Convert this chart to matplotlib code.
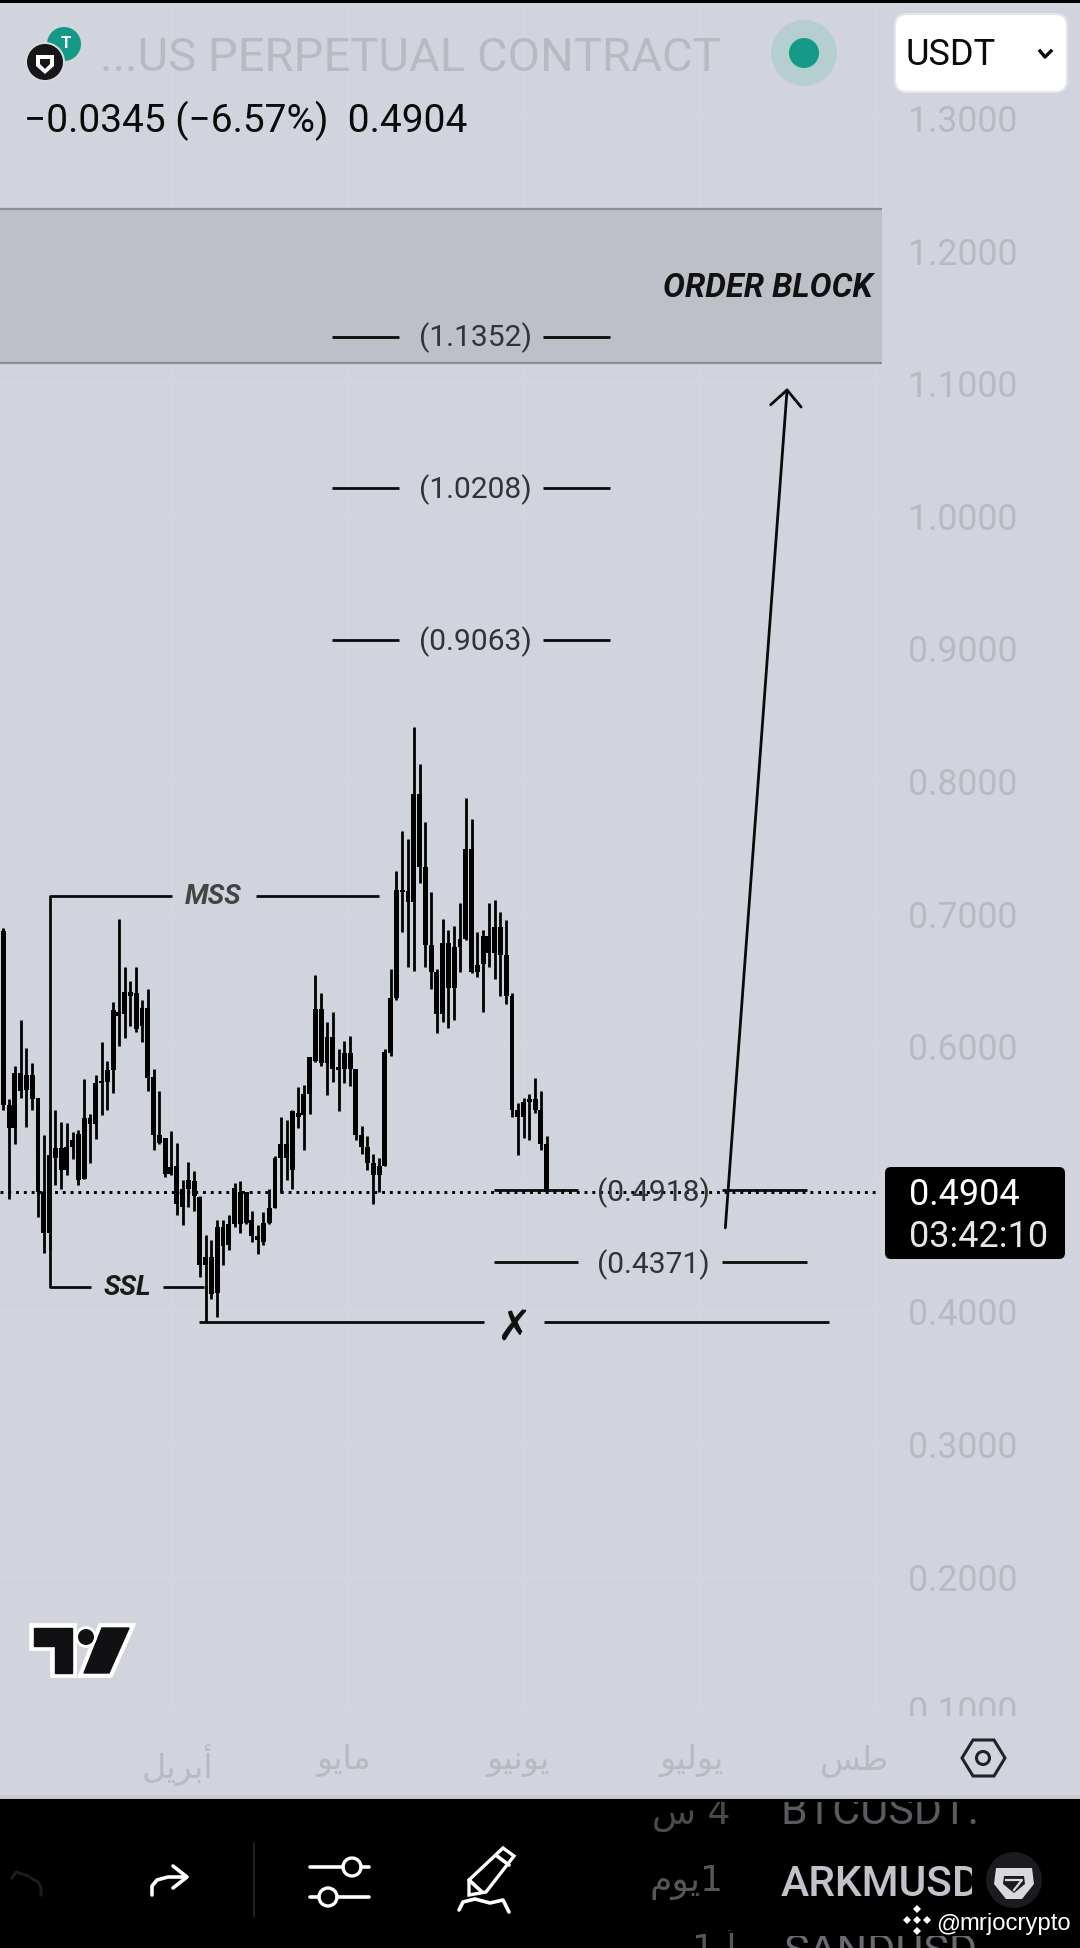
import matplotlib
matplotlib.use("Agg")
import matplotlib.pyplot as plt
import numpy as np
from matplotlib import patheffects as pe
from matplotlib.patches import Circle, FancyBboxPatch, Polygon, Rectangle

plt.rcParams["font.family"] = ["Roboto", "DejaVu Sans"]

BG = "#d1d4dc"
GRID = "#d4d7df"
FAINT = "#b8bac2"

# candles (price)
highs = [.689, .560, .585, .620, .599, .587, .561, .533, .552, .552, .543, .542, .535, .537, .575, .549,
         .578, .603, .589, .633, .696, .660, .649, .660, .635, .643, .583, .566, .531, .536, .527, .499,
         .513, .506, .487, .458, .454, .469, .469, .473, .497, .498, .490, .476, .465, .475, .492, .517,
         .547, .544, .552, .569, .571, .592, .654, .640, .618, .626, .598, .604, .608, .583, .540, .532,
         .519, .516, .598, .658, .732, .762, .756, .841, .813, .769, .716, .658, .696, .688, .691, .708,
         .787, .771, .686, .688, .708, .710, .701, .695, .640, .557, .561, .564, .576, .566, .532]
tops = [.687, .556, .580, .580, .578, .578, .561, .490, .518, .523, .523, .524, .529, .534, .546, .546,
        .572, .574, .582, .627, .626, .641, .641, .640, .629, .629, .577, .533, .531, .509, .510, .492,
        .499, .498, .486, .441, .441, .464, .464, .466, .493, .490, .490, .469, .457, .467, .478, .516,
        .526, .526, .551, .550, .564, .592, .628, .628, .607, .607, .584, .595, .595, .583, .533, .524,
        .512, .510, .596, .636, .718, .718, .717, .790, .790, .735, .676, .656, .678, .678, .675, .681,
        .749, .749, .661, .683, .683, .690, .690, .669, .638, .552, .558, .560, .560, .552, .526]
bottoms = [.556, .538, .538, .566, .567, .560, .490, .459, .459, .516, .507, .507, .524, .499, .500, .541,
           .541, .572, .573, .582, .623, .624, .638, .613, .615, .576, .533, .527, .504, .504, .481, .479,
           .492, .487, .435, .435, .413, .414, .449, .450, .466, .466, .467, .457, .454, .452, .467, .478,
           .516, .516, .507, .547, .548, .564, .589, .587, .587, .583, .582, .583, .583, .533, .524, .512,
           .503, .503, .510, .595, .636, .716, .709, .709, .735, .676, .656, .624, .624, .644, .644, .675,
           .681, .656, .656, .662, .670, .670, .669, .638, .552, .547, .547, .558, .552, .526, .490]
lows = [.552, .485, .526, .561, .539, .552, .471, .444, .446, .495, .492, .503, .515, .495, .500, .512,
        .530, .548, .552, .565, .600, .606, .615, .611, .603, .566, .522, .526, .501, .503, .473, .465,
        .479, .476, .426, .392, .409, .396, .435, .446, .464, .459, .466, .452, .443, .450, .466, .478,
        .489, .499, .492, .538, .522, .549, .588, .585, .563, .573, .551, .572, .570, .529, .519, .507,
        .481, .490, .510, .593, .635, .686, .660, .657, .723, .660, .643, .610, .618, .614, .620, .656,
        .680, .655, .652, .626, .660, .651, .638, .632, .547, .518, .531, .529, .550, .522, .490]

price_ticks = [.1, .2, .3, .4, .5, .6, .7, .8, .9, 1.0, 1.1, 1.2, 1.3]
grid_x = [29.2, 59.6, 90.1, 120.5, 151.0]
month_x = [30.2, 58.8, 89.0, 119.0, 147.2]
# arabic month names, in presentation forms because matplotlib does not shape
month_labels = ["\ufede\ufef3\ufeae\ufe91\ufe83", "\ufeee\ufef3\ufe8e\ufee3",
                "\ufeee\ufef4\ufee7\ufeee\ufef3", "\ufeee\ufef4\ufedf\ufeee\ufef3", "\ufeb2\ufec3"]

last_price = 0.4904
block_low, block_high = 1.1152, 1.2314
upper_levels = [1.1352, 1.0208, 0.9063]
lower_levels = [0.4918, 0.4371]
mss_price, ssl_price, x_price = 0.713, 0.4187, 0.392

fig = plt.figure(figsize=(10.8, 19.48), dpi=100, facecolor=BG)
ax = fig.add_axes([0, (1948 - 1716) / 1948, 882 / 1080, 1716 / 1948], facecolor=BG)
ax.set_xlim(-0.571, 152.0)
ax.set_ylim(0.0949, 1.38899)
for s in ax.spines.values():
    s.set_visible(False)

ax.yaxis.tick_right()
ax.set_yticks(price_ticks, [f"{p:.4f}" for p in price_ticks])
ax.tick_params(axis="y", length=0, pad=19, labelsize=25.7, labelcolor=FAINT)
ax.set_xticks(month_x, month_labels, family="DejaVu Sans")
ax.tick_params(axis="x", length=0, pad=20, labelsize=24, labelcolor=FAINT)
ax.set_xticks(grid_x, minor=True)
ax.tick_params(axis="x", which="minor", length=0)
ax.grid(True, which="minor", axis="x", color=GRID, lw=1.2)
ax.grid(True, which="major", axis="y", color=GRID, lw=1.2)
ax.set_axisbelow(True)

# order block
ax.axhspan(block_low, block_high, color="#bec0c7", lw=0, zorder=1)
ax.axhline(block_low, color="#8c8f96", lw=1.6, zorder=1.5)
ax.axhline(block_high, color="#8c8f96", lw=1.6, zorder=1.5)

# candles
x = np.arange(len(highs))
highs, tops, bottoms, lows = map(np.array, (highs, tops, bottoms, lows))
ax.vlines(x, lows, highs, color="black", lw=2.0, zorder=3)
ax.bar(x, tops - bottoms, bottom=bottoms, width=0.85, color="black", zorder=3)

ax.plot([-0.571, 151.4], [last_price, last_price], color="black", lw=2.1,
        ls=(0, (1, 1.67)), zorder=4, dash_capstyle="butt")

# structure lines
line = dict(color="#0a0a0a", lw=2.0, zorder=4, solid_capstyle="butt")
ax.plot([29.2, 8, 8, 15.2], [mss_price, mss_price, ssl_price, ssl_price], **line)
ax.plot([43.7, 65], [mss_price, mss_price], **line)
ax.plot([27.6, 34.7], [ssl_price, ssl_price], **line)
ax.plot([33.8, 83.2], [x_price, x_price], **line)
ax.plot([93.6, 142.9], [x_price, x_price], **line)
ax.text(36.3, mss_price, "MSS", color="#444444", fontsize=20, weight="bold", style="italic",
        ha="center", va="center", zorder=5)
ax.text(21.4, ssl_price - 0.001, "SSL", color="#1a1a1a", fontsize=20, weight="bold", style="italic",
        ha="center", va="center", zorder=5)
ax.text(88.2, x_price - 0.005, "\u2717", color="#111111", fontsize=30, weight="bold",
        family="DejaVu Sans", ha="center", va="center", zorder=5)
ax.text(150.3, 1.1720, "ORDER BLOCK", color="#111111", fontsize=23.6, weight="bold", style="italic",
        ha="right", va="center", zorder=5)

# target levels
for lv in upper_levels:
    ax.plot([56.9, 68.5], [lv, lv], **line)
    ax.plot([93.4, 105.0], [lv, lv], **line)
    ax.text(81.6, lv - 0.0012, f"({lv:.4f})", color="#333333", fontsize=21.6, ha="center", va="center", zorder=5)
for lv in lower_levels:
    ax.plot([84.8, 99.4], [lv, lv], **line)
    ax.plot([124.4, 139.0], [lv, lv], **line)
    ax.text(112.4, lv - 0.0022, f"({lv:.4f})", color="#333333", fontsize=21.6, ha="center", va="center", zorder=5)

ax.annotate("", xy=(135.6, 1.0964), xytext=(124.9, 0.463), zorder=5,
            arrowprops=dict(arrowstyle="->,head_length=1.15,head_width=1.1", color="#0a0a0a", lw=2.0,
                            shrinkA=0, shrinkB=0))

# overlay in screen pixels for the app chrome
ov = fig.add_axes([0, 0, 1, 1], facecolor="none", zorder=5)
ov.set_xlim(0, 1080)
ov.set_ylim(1948, 0)
ov.axis("off")

ov.add_patch(Rectangle((0, 1716), 1080, 22, color=BG, lw=0))
ov.add_patch(Rectangle((0, 0), 1080, 2.5, color="black", lw=0))
ov.add_patch(Rectangle((0, 1795), 1080, 4, color="#c6c9d0", lw=0))
ov.add_patch(Rectangle((0, 1799), 1080, 149, color="black", lw=0))

# header
ov.add_patch(Circle((64, 44), 17, color="#149a87", lw=0))
ov.text(66, 43, "T", color="white", fontsize=12, weight="bold", ha="center", va="center")
ov.add_patch(Circle((45, 62), 20, color="#d8dadf", lw=0))
ov.add_patch(Circle((45, 62), 18, color="#17171a", lw=0))
ov.add_patch(Polygon([(36, 55), (54, 55), (54, 66), (45, 74), (36, 66)], closed=True, fc="white", lw=0))
ov.add_patch(Polygon([(40, 59), (50, 59), (50, 64), (45, 69), (40, 64)], closed=True, fc="#17171a", lw=0))
ov.text(100, 58, "...US PERPETUAL CONTRACT", color=FAINT, fontsize=34, ha="left", va="center")
ov.text(24, 121, "\u22120.0345 (\u22126.57%)  0.4904", color="#0a0a0a", fontsize=28, ha="left", va="center")
ov.add_patch(Circle((804, 53), 33, color="#b5cfd1", lw=0))
ov.add_patch(Circle((804, 53), 15, color="#149a87", lw=0))
ov.add_patch(FancyBboxPatch((901, 20), 160, 66, boxstyle="round,pad=6,rounding_size=12",
                            fc="white", ec="#e4e6eb", lw=1.5))
ov.text(906, 55, "USDT", color="#0a0a0a", fontsize=26, ha="left", va="center")
ov.plot([1040, 1045, 1051], [51, 57, 51], color="#0a0a0a", lw=2.4)

# price tag
ov.add_patch(FancyBboxPatch((889, 1171), 172, 84, boxstyle="round,pad=4,rounding_size=6", fc="black", lw=0))
ov.text(909, 1195, f"{last_price:.4f}", color="white", fontsize=26, ha="left", va="center")
ov.text(909, 1237, "03:42:10", color="#e6e6e6", fontsize=26, ha="left", va="center")

# tradingview logo
for pts in ([(34, 1628), (72, 1628), (72, 1673), (55, 1673), (55, 1646), (34, 1646)],
            [(102, 1628), (129, 1628), (109, 1673), (84, 1673)]):
    p = Polygon(pts, closed=True, fc="#111114", ec="#111114", lw=1)
    p.set_path_effects([pe.withStroke(linewidth=7, foreground="white")])
    ov.add_patch(p)
dot = Circle((86, 1637), 8, fc="#111114", lw=0)
dot.set_path_effects([pe.withStroke(linewidth=4, foreground="white")])
ov.add_patch(dot)

# settings hexagon
ov.add_patch(Polygon([(962, 1758), (973, 1740), (994, 1740), (1005, 1758), (994, 1776), (973, 1776)],
                     closed=True, fc="none", ec="#222226", lw=2.2))
ov.add_patch(Circle((983, 1758), 6.5, fc="none", ec="#222226", lw=2.2))

# bottom toolbar
white = dict(color="white", lw=2.6, solid_capstyle="round")
ov.plot([12, 12, 16, 28, 38, 41, 41], [1878, 1878, 1872, 1876, 1882, 1888, 1895], color="#1c1c1c", lw=2.2)
ov.plot([152, 152, 157, 168, 186], [1895, 1886, 1880, 1877, 1877], **white)
ov.plot([173, 187, 173], [1866, 1877, 1888], **white)
ov.plot([254, 254], [1843, 1916], color="#2a2a2a", lw=1.2)
ov.plot([310, 343], [1867, 1867], **white)
ov.plot([361, 369], [1867, 1867], **white)
ov.plot([310, 319], [1897, 1897], **white)
ov.plot([337, 369], [1897, 1897], **white)
ov.add_patch(Circle((352, 1867), 9, fc="black", ec="white", lw=2.4))
ov.add_patch(Circle((328, 1897), 9, fc="black", ec="white", lw=2.4))
ov.add_patch(Polygon([(503, 1848), (514, 1856), (486, 1892), (469, 1895), (469, 1880)],
                     closed=True, fc="black", ec="white", lw=2.4))
ov.plot([497, 509], [1856, 1865], **white)
ov.plot([469, 482], [1880, 1892], **white)
ov.plot([459, 463, 475, 490, 503, 509], [1910, 1902, 1899, 1903, 1900, 1912], **white)


def clipped(xpos, ypos, s, box, **kw):
    t = ov.text(xpos, ypos, s, clip_on=True, ha="left", va="center", **kw)
    t.set_clip_path(Rectangle((box[0], box[1]), box[2] - box[0], box[3] - box[1], transform=ov.transData))
    return t


clipped(781, 1812, "BTCUSDT.", (778, 1802, 1000, 1840), color="#5a5b60", fontsize=31)
clipped(781, 1884, "ARKMUSDT", (778, 1850, 972, 1910), color="#c2c3ca", fontsize=30.5, weight="medium")
clipped(783, 1952, "SANDUSD", (780, 1936, 975, 1948), color="#6a6b70", fontsize=31)
clipped(652, 1815, "\ufeb1 4", (645, 1802, 735, 1840), color="#4a4a4e", fontsize=26, family="DejaVu Sans")
clipped(650, 1882, "\ufee1\ufeee\ufef31", (645, 1850, 735, 1915), color="#55555a", fontsize=26, family="DejaVu Sans")
clipped(692, 1948, "1 \ufe83", (685, 1930, 735, 1948), color="#55555a", fontsize=26, family="DejaVu Sans")

ov.add_patch(Circle((1014, 1880), 28, color="#1a1a1f", lw=0))
ov.add_patch(Polygon([(996, 1868), (1032, 1868), (1034, 1884), (1022, 1899), (1006, 1899), (994, 1884)],
                     closed=True, fc="#d8d8de", lw=0))
ov.add_patch(Polygon([(1004, 1876), (1024, 1876), (1025, 1884), (1014, 1893), (1003, 1884)],
                     closed=True, fc="#1a1a1f", lw=0))
ov.plot([1006, 1022, 1014], [1880, 1880, 1890], color="#d8d8de", lw=1.6)

# watermark
for dx, dy in [(0, -11), (-10, 0), (10, 0), (0, 11), (0, 0)]:
    ov.add_patch(Polygon([(917 + dx, 1916 + dy), (921 + dx, 1920 + dy), (917 + dx, 1924 + dy), (913 + dx, 1920 + dy)],
                         closed=True, fc="white", lw=0))
ov.text(936, 1924, "@", color="white", fontsize=17, family=["Liberation Sans"], ha="left", va="center")
ov.text(959, 1924, "mrjocrypto", color="white", fontsize=17.2, family=["Liberation Sans"], ha="left", va="center")

fig.savefig("out.png", dpi=100, facecolor=BG)
